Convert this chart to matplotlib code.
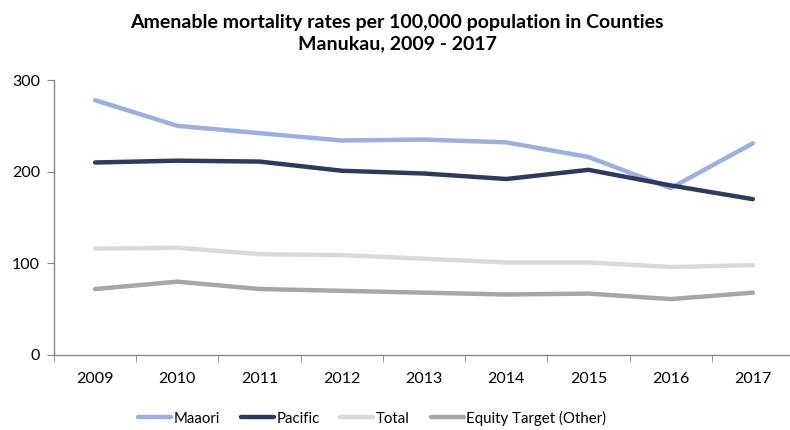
import matplotlib
matplotlib.use("Agg")
import matplotlib.pyplot as plt

years = ["2009", "2010", "2011", "2012", "2013", "2014", "2015", "2016", "2017"]
maaori = [278, 250, 242, 234, 235, 232, 216, 182, 231]
pacific = [210, 212, 211, 201, 198, 192, 202, 185, 170]
total = [116, 117, 110, 109, 105, 101, 101, 96, 98]
equity = [72, 80, 72, 70, 68, 66, 67, 61, 68]

series = [("Maaori", maaori, "#9DAEE0"),
          ("Pacific", pacific, "#2E3A5C"),
          ("Total", total, "#D9D9D9"),
          ("Equity Target (Other)", equity, "#A6A6A6")]

plt.rcParams['font.family'] = ['Lato', 'DejaVu Sans']

fig = plt.figure(figsize=(7.9, 4.3), dpi=100)
ax = fig.add_axes([54/790, 1-355/430, 740/790, 275/430])
x = list(range(len(years)))
for name, vals, col in series:
    ax.plot(x, vals, color=col, lw=3.2, label=name, solid_capstyle='round', solid_joinstyle='round')

ax.set_ylim(0, 300)
ax.set_yticks([0, 100, 200, 300])
ax.set_xlim(-0.5, len(years) - 0.5)
ax.set_xticks(x)
ax.set_xticklabels(years)
ax.set_xticks([i + 0.5 for i in range(-1, len(years))], minor=True)
ax.tick_params(axis='x', which='major', length=0, pad=12, labelsize=11.5)
ax.tick_params(axis='x', which='minor', length=5, color='#868686', direction='out')
ax.tick_params(axis='y', length=5, color='#868686', direction='out', labelsize=11.5, pad=5)
for s in ['top', 'right']:
    ax.spines[s].set_visible(False)
for s in ['left', 'bottom']:
    ax.spines[s].set_color('#868686')
    ax.spines[s].set_linewidth(1.0)

fig.text(397/790, 1-33/430, "Amenable mortality rates per 100,000 population in Counties\nManukau, 2009 - 2017",
         ha='center', va='center', fontsize=14, fontweight='bold', linespacing=1.25)

fig.legend(loc='center', bbox_to_anchor=(372/790, 1-418/430), ncol=4, frameon=False,
           fontsize=10.8, handlelength=2.2, handletextpad=0.15, columnspacing=1.4)

fig.savefig("out.png", dpi=100)
